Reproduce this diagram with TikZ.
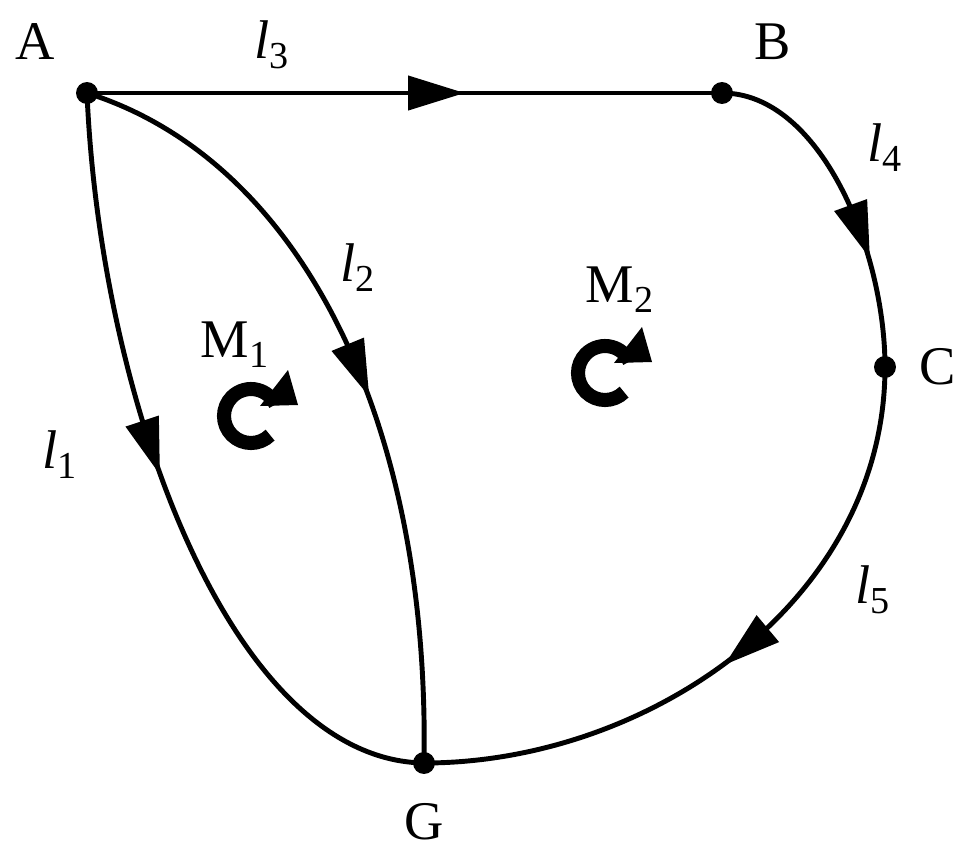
\documentclass[tikz,border=0pt]{standalone}
\usepackage{fontspec}
\setmainfont{Liberation Serif}
\usetikzlibrary{decorations.markings,arrows.meta}
\begin{document}
\begin{tikzpicture}[x=0.02cm,y=-0.02cm,
  wire/.style={line width=2.8pt},
  midarrow/.style={postaction={decorate},decoration={markings,mark=at position #1 with {\fill (16pt,0) -- (-16pt,10pt) -- (-16pt,-10pt) -- cycle;}}},
  dot/.style={circle,fill,inner sep=0pt,minimum size=12.5pt},
  lab/.style={font=\fontsize{31}{31}\selectfont,inner sep=0pt},
  rot/.pic={\draw[line width=8pt] (45:27) arc[start angle=45,end angle=335,radius=27];
            \fill (37,-46) -- (47,-11) -- (9,-10) -- cycle;}]
\useasboundingbox (0,0) rectangle (967,853);
\node[dot] (A) at (87,93) {};
\node[dot] (B) at (722,93) {};
\node[dot] (C) at (885,367) {};
\node[dot] (G) at (424,763) {};
\draw[wire,midarrow=0.55] (A.center) -- (B.center);
\draw[wire,midarrow=0.6] (B.center) .. controls (820,93) and (885,250) .. (C.center);
\draw[wire,midarrow=0.48] (C.center) .. controls (885,600) and (650,763) .. (G.center);
\draw[wire,midarrow=0.5] (A.center) .. controls (300,160) and (430,420) .. (G.center);
\draw[wire,midarrow=0.45] (A.center) .. controls (100,400) and (230,760) .. (G.center);
\node[lab] (tA) at (35,42) {A};
\node[lab] (tB) at (773,42) {B};
\node[lab] (tC) at (938,367) {C};
\node[lab] (tG) at (424,822) {G};
\node[lab] (t3) at (272,45) {\textit{l}\textsubscript{3}};
\node[lab] (t4) at (885,148) {\textit{l}\textsubscript{4}};
\node[lab] (t2) at (358,268) {\textit{l}\textsubscript{2}};
\node[lab] (t1) at (60,455) {\textit{l}\textsubscript{1}};
\node[lab] (t5) at (873,590) {\textit{l}\textsubscript{5}};
\node[lab] (m1) at (235,345) {M\textsubscript{1}};
\node[lab] (m2) at (620,290) {M\textsubscript{2}};
\pic at (251,416) {rot};
\pic at (605,373) {rot};
\end{tikzpicture}
\end{document}
